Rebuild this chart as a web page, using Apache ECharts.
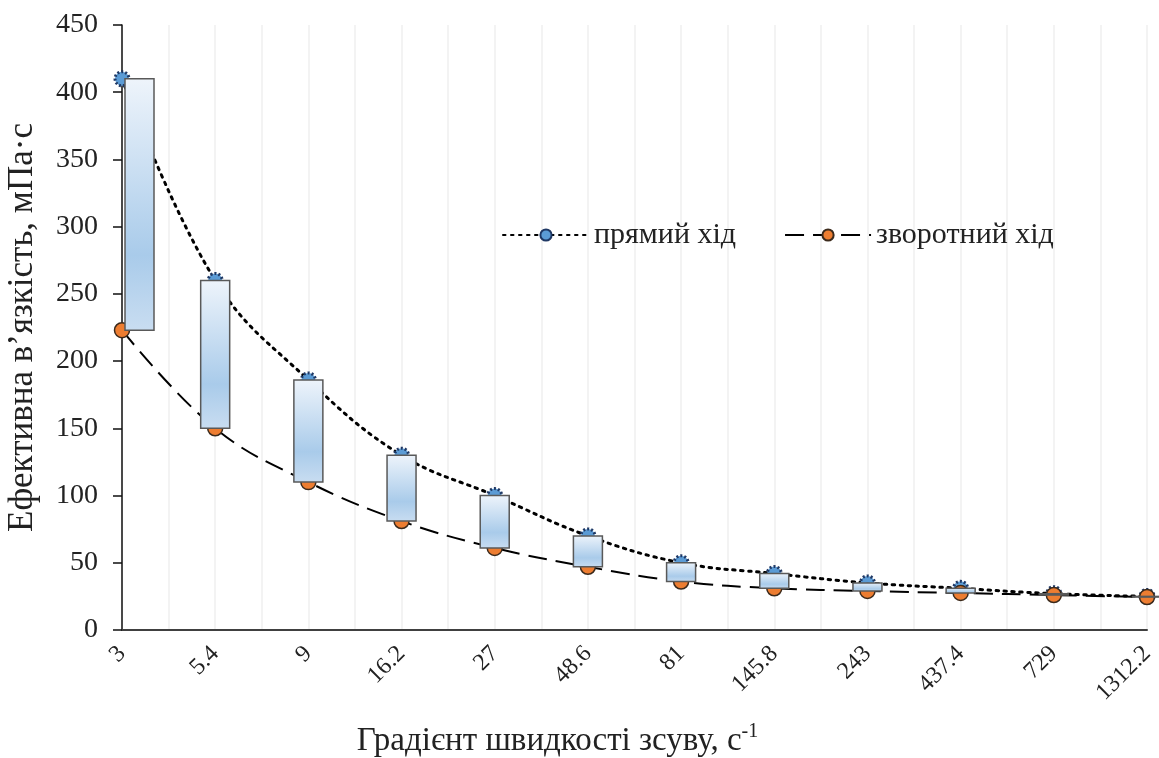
<!DOCTYPE html>
<html>
<head>
<meta charset="utf-8">
<script src="https://cdn.jsdelivr.net/npm/echarts@6/dist/echarts.min.js"></script>
<style>
html,body{margin:0;padding:0;background:#fff;}
#chart{width:1159px;height:758px;}
</style>
</head>
<body>
<div id="chart"></div>
<script>
// Data
const categories = ['3', '5.4', '9', '16.2', '27', '48.6', '81', '145.8', '243', '437.4', '729', '1312.2'];
const forwardValues = [410, 260, 186, 130, 100, 70, 50, 42, 35, 31, 27, 25];   // прямий хід
const backwardValues = [223, 150, 110, 81, 61, 47, 36, 31, 29, 27.5, 26, 24.5]; // зворотний хід
const yTicks = { min: 0, max: 450, interval: 50 };
const seriesNames = ['прямий хід', 'зворотний хід'];

const font = 'Liberation Serif';
const boxData = categories.map((c, i) => [i, backwardValues[i], forwardValues[i]]);

const chart = echarts.init(document.getElementById('chart'), null, { renderer: 'canvas' });
chart.setOption({
  backgroundColor: '#ffffff',
  animation: false,
  textStyle: { fontFamily: font },
  grid: { left: 122, right: 12, top: 25, bottom: 128, containLabel: false, outerBoundsMode: 'none' },
  legend: {
    data: seriesNames,
    left: 497,
    top: 215,
    itemWidth: 86,
    itemHeight: 14,
    itemGap: 48,
    textStyle: { fontFamily: font, fontSize: 30, color: '#222' }
  },
  xAxis: [
    {
      type: 'category',
      data: categories,
      boundaryGap: false,
      axisLine: { lineStyle: { color: '#404040', width: 2 } },
      axisTick: { show: false },
      splitLine: { show: false },
      axisLabel: {
        rotate: 45,
        interval: 0,
        fontFamily: font,
        fontSize: 24,
        color: '#222',
        margin: 20
      },
      name: '{base|Градієнт швидкості зсуву, с}{sup|-1}',
      nameLocation: 'middle',
      nameGap: 92,
      nameTextStyle: {
        fontFamily: font,
        fontSize: 33,
        color: '#222',
        padding: [0, 154, 0, 0],
        rich: {
          base: { fontFamily: font, fontSize: 33, color: '#222' },
          sup: { fontFamily: font, fontSize: 20, color: '#222', padding: [0, 0, 18, 0] }
        }
      }
    },
    {
      type: 'value',
      min: 0,
      max: categories.length - 1,
      interval: 0.5,
      show: true,
      position: 'bottom',
      axisLine: { show: false },
      axisTick: { show: false },
      axisLabel: { show: false },
      splitLine: { show: true, lineStyle: { color: '#efefef', width: 1.5 } }
    }
  ],
  yAxis: {
    type: 'value',
    min: yTicks.min,
    max: yTicks.max,
    interval: yTicks.interval,
    axisLine: { show: true, lineStyle: { color: '#111', width: 1.5 } },
    axisTick: { show: true, inside: false, length: 9, lineStyle: { color: '#111', width: 1.5 } },
    splitLine: { show: false },
    axisLabel: { fontFamily: font, fontSize: 28, color: '#222', margin: 24 },
    name: 'Ефективна в’язкість, мПа·с',
    nameLocation: 'middle',
    nameGap: 82,
    nameTextStyle: { fontFamily: font, fontSize: 35, color: '#222' }
  },
  series: [
    {
      name: seriesNames[0],
      type: 'line',
      data: forwardValues,
      smooth: 0.4,
      symbol: 'circle',
      symbolSize: 14,
      z: 2,
      lineStyle: { color: '#000', width: 3, type: [2.5, 5.5], cap: 'round' },
      itemStyle: { color: '#5b9bd5', borderColor: '#1f3864', borderWidth: 3, borderType: [2, 2] }
    },
    {
      name: seriesNames[1],
      type: 'line',
      data: backwardValues,
      smooth: 0.4,
      symbol: 'circle',
      symbolSize: 15,
      z: 2,
      lineStyle: { color: '#000', width: 2, type: [19, 9] },
      itemStyle: { color: '#ed7d31', borderColor: '#3b2a1c', borderWidth: 1.5 }
    },
    {
      name: 'bars',
      type: 'custom',
      z: 5,
      data: boxData,
      encode: { x: 0, y: [1, 2] },
      renderItem: function (params, api) {
        const idx = api.value(0);
        const lowPt = api.coord([idx, api.value(1)]);
        const highPt = api.coord([idx, api.value(2)]);
        const w = 29;
        let x = lowPt[0] - w / 2;
        if (idx === 0) x = lowPt[0] + 3;
        return {
          type: 'rect',
          shape: { x: x, y: highPt[1], width: w, height: lowPt[1] - highPt[1] },
          style: {
            fill: {
              type: 'linear', x: 0, y: 0, x2: 0, y2: 1,
              colorStops: [
                { offset: 0, color: '#eef4fb' },
                { offset: 0.7, color: '#a9cbea' },
                { offset: 1, color: '#c9ddf1' }
              ]
            },
            stroke: '#595959',
            lineWidth: 1.5
          }
        };
      }
    }
  ]
});
</script>
</body>
</html>
